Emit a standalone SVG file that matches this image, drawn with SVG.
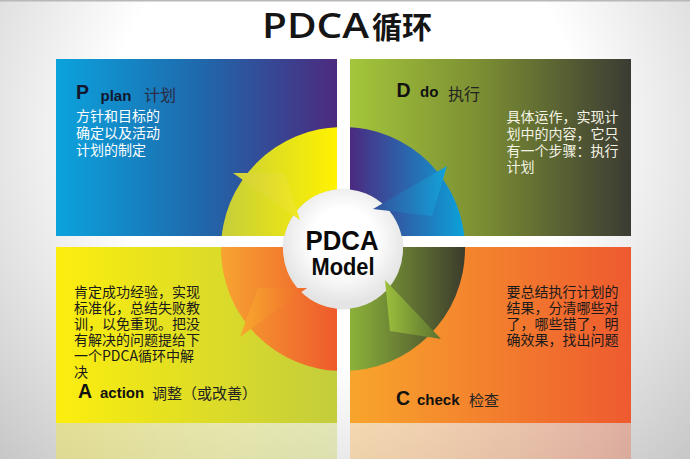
<svg xmlns="http://www.w3.org/2000/svg" width="690" height="459" viewBox="0 0 690 459">
<style>
.cjk{font-family:"Noto Sans CJK SC","Noto Sans",sans-serif}
.lat{font-family:"Liberation Sans",Arial,sans-serif;font-weight:bold}
.big{font-size:19.5px}
.word{font-size:15px}
.body{font-size:14px}
.head{font-size:16px}
</style>
<defs>
<radialGradient id="bg" cx="345" cy="130" r="520" gradientUnits="userSpaceOnUse">
<stop offset="0.45" stop-color="#ffffff"/><stop offset="1" stop-color="#bdbdbd"/>
</radialGradient>
<linearGradient id="gP" x1="56" y1="0" x2="337" y2="0" gradientUnits="userSpaceOnUse">
<stop offset="0" stop-color="#0BA3DD"/><stop offset="0.5" stop-color="#1E6AAD"/><stop offset="1" stop-color="#4C2A7E"/>
</linearGradient>
<linearGradient id="gD" x1="350" y1="0" x2="631" y2="0" gradientUnits="userSpaceOnUse">
<stop offset="0" stop-color="#A4C63B"/><stop offset="0.45" stop-color="#7D9033"/><stop offset="1" stop-color="#3B3B33"/>
</linearGradient>
<linearGradient id="gA" x1="56" y1="0" x2="337" y2="0" gradientUnits="userSpaceOnUse">
<stop offset="0" stop-color="#FCEE0E"/><stop offset="1" stop-color="#C3CD3C"/>
</linearGradient>
<linearGradient id="gC" x1="350" y1="0" x2="631" y2="0" gradientUnits="userSpaceOnUse">
<stop offset="0" stop-color="#F8A52C"/><stop offset="1" stop-color="#EE5A2F"/>
</linearGradient>
<linearGradient id="rTL" x1="221" y1="0" x2="337" y2="0" gradientUnits="userSpaceOnUse">
<stop offset="0" stop-color="#C6CE3A"/><stop offset="1" stop-color="#FFF200"/>
</linearGradient>
<linearGradient id="rTR" x1="350" y1="0" x2="465" y2="0" gradientUnits="userSpaceOnUse">
<stop offset="0" stop-color="#4B2A80"/><stop offset="1" stop-color="#0BA2DA"/>
</linearGradient>
<linearGradient id="rBR" x1="350" y1="0" x2="465" y2="0" gradientUnits="userSpaceOnUse">
<stop offset="0" stop-color="#8CB23A"/><stop offset="1" stop-color="#3C3C2C"/>
</linearGradient>
<linearGradient id="rBL" x1="221" y1="0" x2="337" y2="0" gradientUnits="userSpaceOnUse">
<stop offset="0" stop-color="#F7A431"/><stop offset="1" stop-color="#EE5A2C"/>
</linearGradient>
<linearGradient id="tTL" x1="233" y1="0" x2="300" y2="0" gradientUnits="userSpaceOnUse">
<stop offset="0" stop-color="#D0D03C"/><stop offset="1" stop-color="#F0E722"/>
</linearGradient>
<linearGradient id="tTR" x1="373" y1="0" x2="447" y2="0" gradientUnits="userSpaceOnUse">
<stop offset="0" stop-color="#35509C"/><stop offset="1" stop-color="#12A2D8"/>
</linearGradient>
<linearGradient id="tBR" x1="385" y1="0" x2="441" y2="0" gradientUnits="userSpaceOnUse">
<stop offset="0" stop-color="#9CC03C"/><stop offset="1" stop-color="#5A7030"/>
</linearGradient>
<linearGradient id="tBL" x1="240" y1="0" x2="307" y2="0" gradientUnits="userSpaceOnUse">
<stop offset="0" stop-color="#F8A82E"/><stop offset="1" stop-color="#EF6A2C"/>
</linearGradient>
<radialGradient id="disk" cx="343" cy="240" r="64" gradientUnits="userSpaceOnUse">
<stop offset="0.5" stop-color="#ffffff"/><stop offset="1" stop-color="#e4e4e4"/>
</radialGradient>
<clipPath id="cTL"><rect x="56" y="59" width="281" height="177"/></clipPath>
<clipPath id="cTR"><rect x="350" y="59" width="281" height="177"/></clipPath>
<clipPath id="cBL"><rect x="56" y="247" width="281" height="176"/></clipPath>
<clipPath id="cBR"><rect x="350" y="247" width="281" height="176"/></clipPath>
<path id="ring" fill-rule="evenodd" d="M221,249 A122,122 0 1,1 465,249 A122,122 0 1,1 221,249 Z M283,249 A60,60 0 1,0 403,249 A60,60 0 1,0 283,249 Z"/>
</defs>

<rect x="0" y="0" width="690" height="459" fill="url(#bg)"/>
<rect x="0" y="0" width="690" height="1.5" fill="#b8b8b8"/>

<g id="title" fill="#151515">
<text x="262" y="38" font-family="'Open Sans','Noto Sans',sans-serif" font-size="35" font-weight="600" textLength="107" lengthAdjust="spacingAndGlyphs">PDCA</text>
<text x="372" y="37.5" class="cjk" font-size="30" font-weight="bold">循环</text>
</g>

<g id="reflections" opacity="0.32">
<rect x="56" y="423" width="281" height="36" fill="url(#gA)"/>
<rect x="350" y="423" width="281" height="36" fill="url(#gC)"/>
</g>

<g id="node-P">
<rect x="56" y="59" width="281" height="177" fill="url(#gP)"/>
<text x="76" y="99" class="lat big" fill="#12162e">P</text>
<text x="100.5" y="100.5" class="lat word" fill="#12162e">plan</text>
<text x="144" y="101" class="cjk head" fill="#2a2c44">计划</text>
<text class="cjk body" fill="#ffffff"><tspan x="76" y="121">方针和目标的</tspan><tspan x="76" y="138">确定以及活动</tspan><tspan x="76" y="155">计划的制定</tspan></text>
</g>

<g id="node-D">
<rect x="350" y="59" width="281" height="177" fill="url(#gD)"/>
<text x="396.5" y="97" class="lat big" fill="#111">D</text>
<text x="420" y="97.3" class="lat word" fill="#111">do</text>
<text x="448" y="100" class="cjk head" fill="#222">执行</text>
<text class="cjk body" fill="#f4f4e6"><tspan x="506.5" y="122">具体运作，实现计</tspan><tspan x="506.5" y="139">划中的内容，它只</tspan><tspan x="506.5" y="156">有一个步骤：执行</tspan><tspan x="506.5" y="172">计划</tspan></text>
</g>

<g id="node-A">
<rect x="56" y="247" width="281" height="176" fill="url(#gA)"/>
<text class="cjk body" fill="#1a1a1a"><tspan x="74" y="296.5">肯定成功经验，实现</tspan><tspan x="74" y="312.5">标准化，总结失败教</tspan><tspan x="74" y="328.5">训，以免重现。把没</tspan><tspan x="74" y="344.5">有解决的问题提给下</tspan><tspan x="74" y="360.5">一个PDCA循环中解</tspan><tspan x="74" y="376.5">决</tspan></text>
<text x="78" y="398" class="lat big" fill="#111">A</text>
<text x="100" y="398" class="lat word" fill="#111">action</text>
<text x="152" y="399" class="cjk word" fill="#222">调整（或改善）</text>
</g>

<g id="node-C">
<rect x="350" y="247" width="281" height="176" fill="url(#gC)"/>
<text class="cjk body" fill="#1a1a1a"><tspan x="506.5" y="296.5">要总结执行计划的</tspan><tspan x="506.5" y="312.5">结果，分清哪些对</tspan><tspan x="506.5" y="328.5">了，哪些错了，明</tspan><tspan x="506.5" y="344.5">确效果，找出问题</tspan></text>
<text x="396" y="405" class="lat big" fill="#111">C</text>
<text x="417" y="405" class="lat word" fill="#111">check</text>
<text x="469" y="406" class="cjk word" fill="#222">检查</text>
</g>

<g id="center">
<circle cx="343" cy="249" r="60.5" fill="url(#disk)"/>
<text x="342" y="250" text-anchor="middle" class="lat" font-size="27" textLength="73" lengthAdjust="spacingAndGlyphs" fill="#0a0a0a">PDCA</text>
<text x="343" y="275" text-anchor="middle" class="lat" font-size="24" textLength="63" lengthAdjust="spacingAndGlyphs" fill="#0a0a0a">Model</text>
</g>

<g id="connectors">
<use href="#ring" fill="url(#rTL)" clip-path="url(#cTL)"/>
<use href="#ring" fill="url(#rTR)" clip-path="url(#cTR)"/>
<use href="#ring" fill="url(#rBR)" clip-path="url(#cBR)"/>
<use href="#ring" fill="url(#rBL)" clip-path="url(#cBL)"/>
<polygon points="233,173 285,173 300,220" fill="url(#tTL)"/>
<polygon points="447,166 432,216 373,209" fill="url(#tTR)"/>
<polygon points="385,280 390,331 441,339" fill="url(#tBR)"/>
<polygon points="258,288 307,288 240,337" fill="url(#tBL)"/>
</g>
</svg>
